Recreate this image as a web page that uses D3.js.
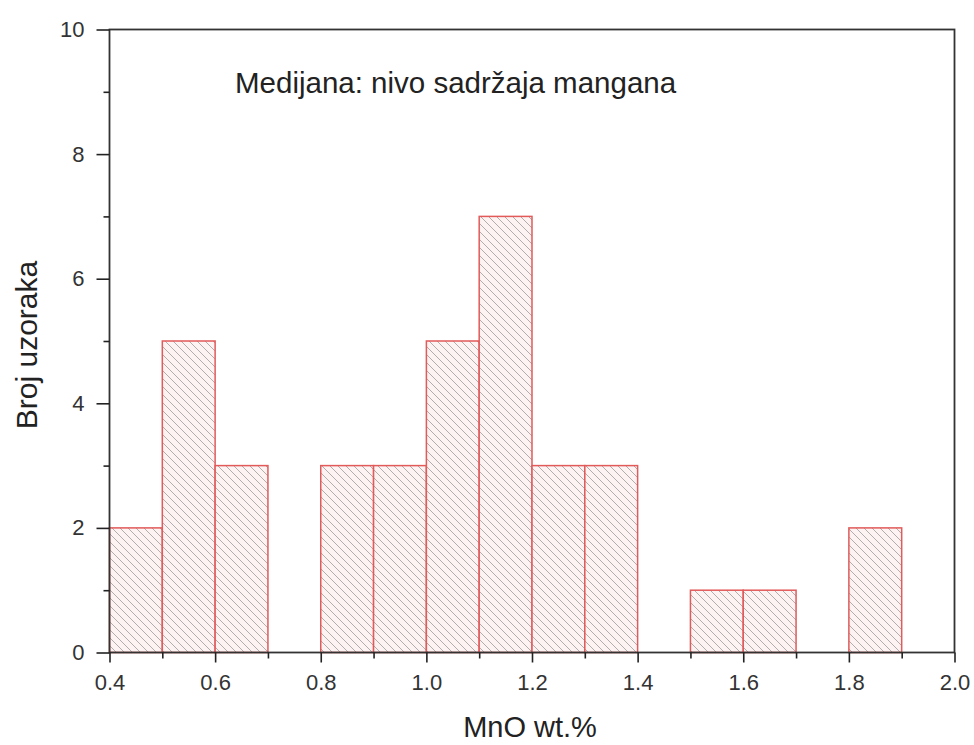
<!DOCTYPE html>
<html><head><meta charset="utf-8">
<script src="https://cdn.jsdelivr.net/npm/d3@7"></script>
<style>body{margin:0;background:#fff;}svg{display:block;}text{font-family:"Liberation Sans",Arial,sans-serif;fill:#222;}</style>
</head><body><svg id="c" width="974" height="745"></svg>
<script>
const binStarts = [0.4,0.5,0.6,0.7,0.8,0.9,1.0,1.1,1.2,1.3,1.4,1.5,1.6,1.7,1.8,1.9];
const counts    = [2,  5,  3,  0,  3,  3,  5,  7,  3,  3,  0,  1,  1,  0,  2,  0];
const binWidth = 0.1;
const xTicks = [0.4,0.6,0.8,1.0,1.2,1.4,1.6,1.8,2.0];
const yTicks = [0,2,4,6,8,10];
const title = "Medijana: nivo sadržaja mangana";
const xLabel = "MnO wt.%";
const yLabel = "Broj uzoraka";

const svg = d3.select("#c");
const L=109.5, R=954.5, T=29.5, B=652.5;
const x = d3.scaleLinear().domain([0.4,2.0]).range([L,R]);
const y = d3.scaleLinear().domain([0,10]).range([B,T]);

const defs = svg.append("defs");
const pat = defs.append("pattern").attr("id","hatch").attr("patternUnits","userSpaceOnUse")
  .attr("width",8).attr("height",8);
pat.append("rect").attr("width",8).attr("height",8).attr("fill","#fdf3f3");
pat.append("path").attr("d","M-2,-2 L10,10 M-2,6 L2,10 M6,-2 L10,2").attr("stroke","#9a9a9a").attr("stroke-width",0.8);

const data = binStarts.map((s,i)=>({s, c:counts[i]})).filter(d=>d.c>0);
svg.append("g").selectAll("rect").data(data).join("rect")
  .attr("x",d=>x(d.s)).attr("width",d=>x(d.s+binWidth)-x(d.s))
  .attr("y",d=>y(d.c)).attr("height",d=>y(0)-y(d.c))
  .attr("fill","url(#hatch)").attr("stroke","#e25a5a").attr("stroke-width",1.5);

// frame
svg.append("rect").attr("x",L).attr("y",T).attr("width",R-L).attr("height",B-T)
  .attr("fill","none").attr("stroke","#333").attr("stroke-width",1.8);

// x axis
const xa = svg.append("g").attr("transform",`translate(0,${B})`)
  .call(d3.axisBottom(x).tickValues(xTicks).tickFormat(d3.format(".1f")).tickSize(10).tickPadding(12));
const xm = svg.append("g").attr("transform",`translate(0,${B})`)
  .call(d3.axisBottom(x).tickValues(d3.range(0.5,2.0,0.2)).tickFormat("").tickSize(6));
// y axis
const ya = svg.append("g").attr("transform",`translate(${L},0)`)
  .call(d3.axisLeft(y).tickValues(yTicks).tickSize(13).tickPadding(12));
const ym = svg.append("g").attr("transform",`translate(${L},0)`)
  .call(d3.axisLeft(y).tickValues([1,3,5,7,9]).tickFormat("").tickSize(6));
[xa,xm,ya,ym].forEach(g=>{
  g.select(".domain").remove();
  g.selectAll("line").attr("stroke","#222").attr("stroke-width",1.6);
  g.selectAll("text").style("font-size","22px").style("fill","#333").style("font-family","Liberation Sans, Arial, sans-serif");
});

svg.append("text").attr("x",235).attr("y",93).style("font-size","29.5px").text(title);
svg.append("text").attr("x",530).attr("y",737).attr("text-anchor","middle").style("font-size","29px").text(xLabel);
svg.append("text").attr("transform",`translate(37,345) rotate(-90)`).attr("text-anchor","middle").style("font-size","30px").text(yLabel);
</script></body></html>
